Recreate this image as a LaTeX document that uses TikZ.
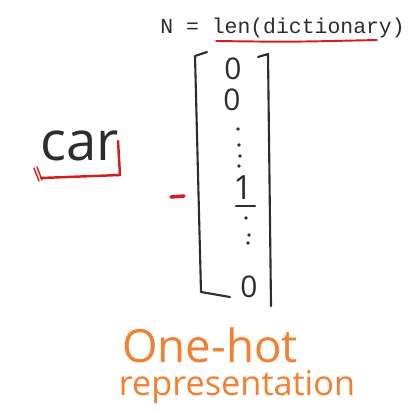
\documentclass[tikz,border=0pt]{standalone}
\usepackage{fontspec}
\setmainfont{Open Sans}
\newfontfamily\codefont{Liberation Mono}
\usetikzlibrary{calc}
\definecolor{inkgray}{RGB}{45,45,45}
\definecolor{inkred}{RGB}{212,30,30}
\definecolor{inkorange}{RGB}{242,128,48}
\tikzset{
  pen/.style    ={draw=inkgray, line width=1.2pt, line cap=round, line join=round},
  redpen/.style ={draw=inkred, line width=1.4pt, line cap=round, line join=round},
  entry/.style  ={font=\fontsize{17}{17}\selectfont, text=inkgray, inner sep=0pt},
  dotm/.style   ={fill=inkgray, circle, inner sep=0pt, minimum size=2.2pt},
  hand/.style   ={text=inkorange, inner sep=0pt},
}

\begin{document}
\begin{tikzpicture}[x=0.02cm,y=-0.02cm]
  \useasboundingbox[fill=white] (0,0) rectangle (411,411);
  % size of the dictionary
  \node[font=\codefont\fontsize{12.2}{13}\selectfont, text=inkgray, anchor=west, inner sep=0pt] (title) at (160,28) {N = len(dictionary)};
  \draw[redpen, line width=1.1pt] (216,41) .. controls (290,42) .. (377,40);
  % the word
  \node[font=\fontsize{31}{31}\selectfont, text=inkgray, inner sep=0pt] (word) at (80,146) {car};
  \draw[redpen] (118,141) -- (120,175) -- (41,178);
  \draw[redpen, line width=0.8pt] (34,168) -- (39,181);
  \draw[redpen, line width=0.8pt] (37,167) -- (42,180);
  \draw[redpen, line width=2pt] (171,197) -- (184,196);
  % the vector
  \draw[pen] (207,52) -- (195,56) -- (201,292) -- (230,297);
  \draw[pen] (258,57) -- (268,54) -- (271,306);
  \node[entry] (e1) at (233,69) {0};
  \node[entry] (e2) at (232,100) {0};
  \node[entry, font=\fontsize{19}{19}\selectfont] (e3) at (243,188) {1};
  \node[entry] (e4) at (249,287) {0};
  \draw[pen] ($(e3.south)+(-7,6)$) -- ($(e3.south)+(12,6)$);
  \foreach \p [count=\i] in {(238,129),(239,145),(240,156),(239,166),(246,218),(249,235),(248,243)}
    \node[dotm] (d\i) at \p {};
  % caption
  \node[hand, font=\fontsize{26}{26}\selectfont] (cap1) at (210,345) {One-hot};
  \node[hand, font=\fontsize{19.5}{19.5}\selectfont] (cap2) at (237,387) {representation};
\end{tikzpicture}
\end{document}
